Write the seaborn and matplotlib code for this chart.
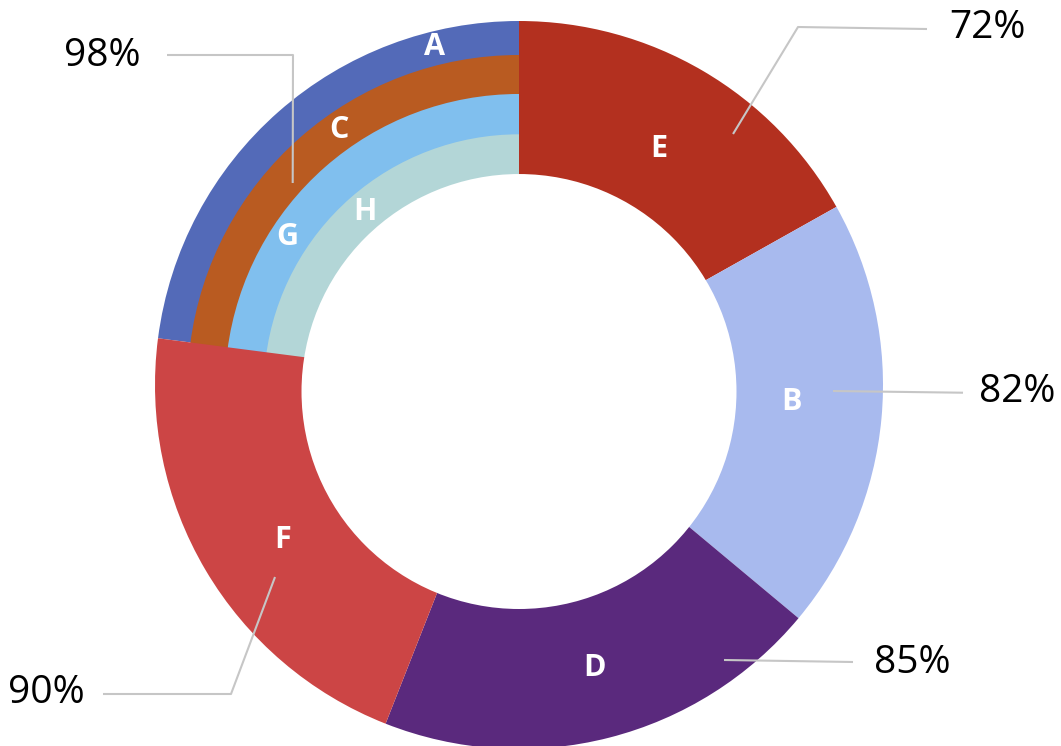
import matplotlib
matplotlib.use("Agg")
import matplotlib.pyplot as plt
from matplotlib.patches import Circle
import seaborn as sns
import numpy as np

# Outer ring segments
outer_labels = ["E", "B", "D", "F"]
outer_values = [72, 82, 85, 90]
outer_colors = ["#B3301F", "#A8BAEE", "#5A297D", "#CC4545"]

# Stacked rings sharing the remaining slice (outermost first)
ring_labels = ["A", "C", "G", "H"]
ring_value = 98
ring_colors = ["#536AB8", "#B95B21", "#80BFEE", "#B3D6D7"]

pct_values = outer_values + [ring_value]

# Geometry (1 unit = outer radius)
PX = 364.0
ring_radii = [1.0, 0.9107, 0.8077, 0.7011]
ring_offsets = [0.0, 0.0041, 0.0082, 0.0124]
hole_radius, hole_offset = 0.5975, 0.0179

sns.set_theme(style="white")
plt.rcParams["font.family"] = ["Open Sans", "DejaVu Sans"]

fig = plt.figure(figsize=(10.61, 7.46), dpi=100)
ax = fig.add_axes([0, 0, 1, 1])
ax.axis("off")

rest = sum(outer_values)
nofill = (1, 1, 1, 0)

# Rings first, each drawn as a full wedge over the previous one
for c, r, off in zip(ring_colors, ring_radii, ring_offsets):
    w, _ = ax.pie([rest, ring_value], colors=[nofill, c], startangle=90,
                  counterclock=False, radius=r, center=(0, -off),
                  wedgeprops=dict(linewidth=0, edgecolor="none"))
    w[0].set_visible(False)

# Outer segments on top
palette = sns.color_palette(outer_colors) + [nofill]
wedges, _ = ax.pie(outer_values + [ring_value], colors=palette, startangle=90,
                   counterclock=False, radius=1.0,
                   wedgeprops=dict(linewidth=0, edgecolor="none"))
wedges[-1].set_visible(False)

# Centre hole
ax.add_patch(Circle((0, -hole_offset), hole_radius, facecolor="white",
                    edgecolor="none", zorder=3))

# Letters inside segments: (angle in degrees, radius)
letter_pos = {"E": (59.3, 0.754), "B": (-3.6, 0.751), "D": (-75.0, 0.805),
              "F": (-146.7, 0.776), "A": (104.0, 0.957), "C": (125.2, 0.857),
              "G": (147.5, 0.756), "H": (131.7, 0.636)}
for lab in outer_labels + ring_labels:
    a, r = letter_pos[lab]
    a = np.deg2rad(a)
    ax.text(r * np.cos(a), r * np.sin(a), lab, color="white", fontsize=22,
            fontweight="bold", ha="center", va="center", zorder=4)

# Leader lines with percentage labels
leaders = [
    [(0.588, 0.6896), (0.7665, 0.9835), (1.1209, 0.978)],
    [(0.8626, -0.0165), (1.2198, -0.0212)],
    [(0.5632, -0.7555), (0.9176, -0.7610)],
    [(-0.6703, -0.5275), (-0.7912, -0.8489), (-1.1429, -0.8489)],
    [(-0.6217, 0.5549), (-0.6209, 0.9066), (-0.9670, 0.9066)],
]
text_pos = [(1.1813, 0.9808, "left"), (1.2637, -0.0206, "left"),
            (0.9753, -0.7624, "left"), (-1.1923, -0.8462, "right"),
            (-1.0412, 0.9038, "right")]
for pts, (tx, ty, ha), v in zip(leaders, text_pos, pct_values):
    xs, ys = zip(*pts)
    ax.plot(xs, ys, color="#C6C6C6", linewidth=1.5, solid_capstyle="butt", zorder=5)
    ax.text(tx, ty, f"{v}%", fontsize=28, color="black", ha=ha, va="center", zorder=6)

ax.set_aspect("auto")
ax.set_xlim(-519 / PX, (1061 - 519) / PX)
ax.set_ylim((385 - 746) / PX, 385 / PX)

fig.savefig("out.png", dpi=100, facecolor="white")
